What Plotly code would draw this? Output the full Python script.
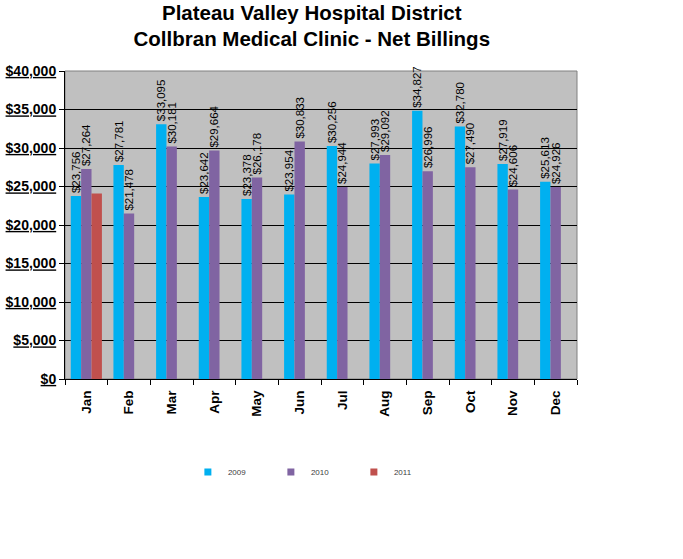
import plotly.graph_objects as go

months = ["Jan", "Feb", "Mar", "Apr", "May", "Jun", "Jul", "Aug", "Sep", "Oct", "Nov", "Dec"]
billings_2009 = [23756, 27781, 33095, 23642, 23378, 23954, 30256, 27993, 34827, 32780, 27919, 25613]
billings_2010 = [27264, 21478, 30181, 29664, 26178, 30833, 24944, 29092, 26996, 27490, 24606, 24926]
billings_2011 = [24100, None, None, None, None, None, None, None, None, None, None, None]
y_tick_vals = [0, 5000, 10000, 15000, 20000, 25000, 30000, 35000, 40000]
y_tick_text = ["$0", "$5,000", "$10,000", "$15,000", "$20,000", "$25,000", "$30,000", "$35,000", "$40,000"]

FONT = "Arial, Liberation Sans, sans-serif"
colors = {"2009": "#00B0F0", "2010": "#8064A2", "2011": "#C0504D"}

def fmt(v):
    return "" if v is None else "${:,}".format(v)

fig = go.Figure()
series = [("2009", billings_2009, True), ("2010", billings_2010, True), ("2011", billings_2011, False)]
for name, vals, labelled in series:
    fig.add_trace(go.Bar(
        x=months, y=vals, name=name,
        marker=dict(color=colors[name], line=dict(width=0)),
        text=[fmt(v) for v in vals] if labelled else None,
        textposition="outside" if labelled else "none",
        textangle=-90,
        textfont=dict(family=FONT, size=11.5, color="black"),
        constraintext="none",
        cliponaxis=False,
        showlegend=False,
    ))
    # legend entry with small square
    fig.add_trace(go.Scatter(
        x=[None], y=[None], mode="markers", name=name,
        marker=dict(symbol="square", size=7, color=colors[name]),
        showlegend=True,
    ))

fig.update_layout(
    width=683, height=559,
    margin=dict(l=65, r=106, t=71, b=180, autoexpand=False),
    paper_bgcolor="white",
    plot_bgcolor="#C0C0C0",
    barmode="group",
    bargap=0.27,
    bargroupgap=0,
    title=dict(
        text="Plateau Valley Hospital District<br>Collbran Medical Clinic - Net Billings",
        font=dict(family=FONT, size=20.5, color="black", weight="bold"),
        x=0.482, xref="paper", xanchor="center",
        y=0.965, yref="container", yanchor="top",
        automargin=False,
    ),
    legend=dict(
        orientation="h",
        x=0.24, xref="paper", xanchor="left",
        y=-0.255, yref="paper", yanchor="top",
        font=dict(family=FONT, size=8, color="#404040"),
        entrywidth=38, entrywidthmode="pixels",
        itemsizing="trace",
        bgcolor="rgba(0,0,0,0)",
    ),
    xaxis=dict(
        type="category",
        automargin=False,
        showline=True, linecolor="black", linewidth=1,
        ticks="outside", ticklen=5, tickcolor="black", tickson="boundaries",
        tickangle=-90, ticklabelstandoff=5,
        tickfont=dict(family=FONT, size=13.5, color="black", weight="bold"),
        showgrid=False,
    ),
    yaxis=dict(
        range=[0, 40000],
        automargin=False,
        tickvals=y_tick_vals, ticktext=y_tick_text,
        tickfont=dict(family=FONT, size=14, color="black", weight="bold", lineposition="under"),
        showline=True, linecolor="black", linewidth=1,
        ticks="outside", ticklen=5, tickcolor="black",
        showgrid=True, gridcolor="black", gridwidth=1,
        zeroline=False,
    ),
    shapes=[dict(type="rect", xref="paper", yref="paper", x0=0, x1=1, y0=0, y1=1,
                 line=dict(color="#808080", width=1), layer="below")],
)

fig.write_html("out.html", config={"displayModeBar": False},
               post_script="document.body.style.margin='0';")
